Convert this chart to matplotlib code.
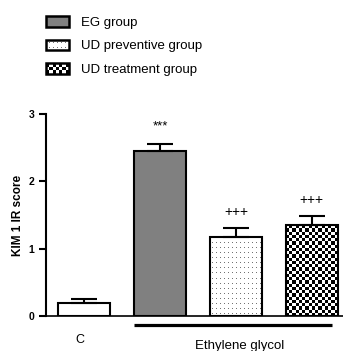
import numpy as np
import matplotlib
matplotlib.use("Agg")
import matplotlib.pyplot as plt
from matplotlib.patches import Rectangle, Patch
from matplotlib.legend_handler import HandlerBase

plt.rcParams['font.family'] = ['Liberation Sans', 'DejaVu Sans']

# KIM-1 immunoreactivity score, mean and SEM per group
groups = ['C', 'EG group', 'UD preventive group', 'UD treatment group']
means = [0.20, 2.45, 1.18, 1.35]
sems = [0.05, 0.10, 0.12, 0.14]
marks = ['', '***', '+++', '+++']
fills = ['white', 'solid', 'dots', 'checker']
y_ticks = [0, 1, 2, 3]

W, H = 343, 351
fig = plt.figure(figsize=(W / 100, H / 100), dpi=100)
ax = fig.add_axes([46 / W, 35 / H, 1 - 46 / W, 202 / H])
ax.set_xlim(-0.5, 3.41)
ax.set_ylim(0, 3)

x = np.arange(len(means))
bar_w = 0.684
face = {'white': 'white', 'solid': '#808080', 'dots': 'white', 'checker': 'white'}
bars = ax.bar(x, means, width=bar_w, color=[face[f] for f in fills],
              edgecolor='none', zorder=2)

# pixel scale of the data axes, used to size the fill patterns
px_x = ax.transData.transform((1, 0))[0] - ax.transData.transform((0, 0))[0]
px_y = ax.transData.transform((0, 1))[1] - ax.transData.transform((0, 0))[1]


def checker(n_rows, n_cols):
    return (np.add.outer(np.arange(n_rows), np.arange(n_cols)) % 2).astype(float)


def dots(n_rows, n_cols):
    arr = np.ones((n_rows, n_cols))
    rr, cc = np.meshgrid(np.arange(n_rows), np.arange(n_cols), indexing='ij')
    arr[(rr % 5 == 2) & (cc % 4 == 2)] = 0.45
    return arr


for xi, m, f, b in zip(x, means, fills, bars):
    w_px = bar_w * px_x
    h_px = m * px_y
    if f == 'checker':
        n_cols = 16
        n_rows = int(round(h_px / (w_px / n_cols)))
        arr = checker(n_rows, n_cols)
    elif f == 'dots':
        arr = dots(int(round(h_px)), int(round(w_px)))
    else:
        continue
    im = ax.imshow(arr, cmap='gray', vmin=0, vmax=1, origin='lower',
                   interpolation='nearest', aspect='auto', zorder=2.5,
                   extent=(xi - bar_w / 2, xi + bar_w / 2, 0, m))
    im.set_clip_path(b)

ax.set_xlim(-0.5, 3.41)
ax.set_ylim(0, 3)

# bar outlines on top of the fill patterns
ax.bar(x, means, width=bar_w, fill=False, edgecolor='black', linewidth=1.5, zorder=3)
ax.errorbar(x, means, yerr=[np.zeros(len(sems)), sems], fmt='none', ecolor='black',
            elinewidth=1.5, capsize=9.4, capthick=1.5, zorder=4)

for xi, m, s, t in zip(x, means, sems, marks):
    if t == '***':
        ax.text(xi, m + s + 0.26, t, ha='center', va='center', fontsize=9.5)
    elif t:
        ax.text(xi, m + s + 0.24, t, ha='center', va='center', fontsize=10)

# axes styling
for side in ['top', 'right']:
    ax.spines[side].set_visible(False)
ax.spines['left'].set_linewidth(1.5)
ax.spines['bottom'].set_linewidth(1.2)
ax.set_xticks([])
ax.set_yticks(y_ticks)
ax.set_yticklabels([str(t) for t in y_ticks], fontweight='bold', fontsize=7.5)
ax.tick_params(axis='y', length=5, width=1.5, pad=3.5)
ax.set_ylabel('KIM 1 IR score', fontweight='bold', fontsize=8.5)
ax.yaxis.set_label_coords(-0.075, 0.5)

# group labels under the axis
ax.text(-0.05, -0.357, 'C', ha='center', va='center', fontsize=9, clip_on=False)
ax.plot([0.66, 3.26], [-0.138, -0.138], color='black', lw=2.3, clip_on=False,
        solid_capstyle='butt')
ax.text(2.05, -0.44, 'Ethylene glycol', ha='center', va='center', fontsize=9.5,
        clip_on=False)


class PatternHandler(HandlerBase):
    def __init__(self, kind):
        super().__init__()
        self.kind = kind

    def create_artists(self, legend, orig_handle, xdescent, ydescent,
                       width, height, fontsize, trans):
        x0, y0 = -xdescent, -ydescent
        arts = [Rectangle((x0, y0), width, height, facecolor='white',
                          edgecolor='none', transform=trans)]
        if self.kind == 'checker':
            n_cols = 7
            cw = width / n_cols
            n_rows = max(1, int(round(height / cw)))
            ch = height / n_rows
            for i in range(n_rows):
                for j in range(n_cols):
                    if (i + j) % 2 == 0:
                        arts.append(Rectangle((x0 + j * cw, y0 + i * ch), cw, ch,
                                              facecolor='black', edgecolor='none',
                                              transform=trans))
        else:
            step_x, step_y = 2.9, 3.4
            for yy in np.arange(y0 + 2.0, y0 + height - 1.0, step_y):
                for xx in np.arange(x0 + 2.0, x0 + width - 1.0, step_x):
                    arts.append(Rectangle((xx, yy), 0.7, 0.7, facecolor='#777777',
                                          edgecolor='none', transform=trans))
        arts.append(Rectangle((x0, y0), width, height, facecolor='none',
                              edgecolor='black', linewidth=1.8, transform=trans))
        return arts


h_eg = Patch(facecolor='#808080', edgecolor='black', linewidth=1.8, label=groups[1])
h_prev = Patch(label=groups[2])
h_treat = Patch(label=groups[3])
fig.legend(handles=[h_eg, h_prev, h_treat], loc='upper left',
           bbox_to_anchor=(46 / W, 1 - 16 / H), frameon=False, fontsize=9.5,
           handlelength=1.75, handleheight=0.88, handletextpad=0.9,
           labelspacing=0.8, borderpad=0, borderaxespad=0,
           handler_map={h_prev: PatternHandler('dots'), h_treat: PatternHandler('checker')})

fig.savefig('out.png', dpi=100)
